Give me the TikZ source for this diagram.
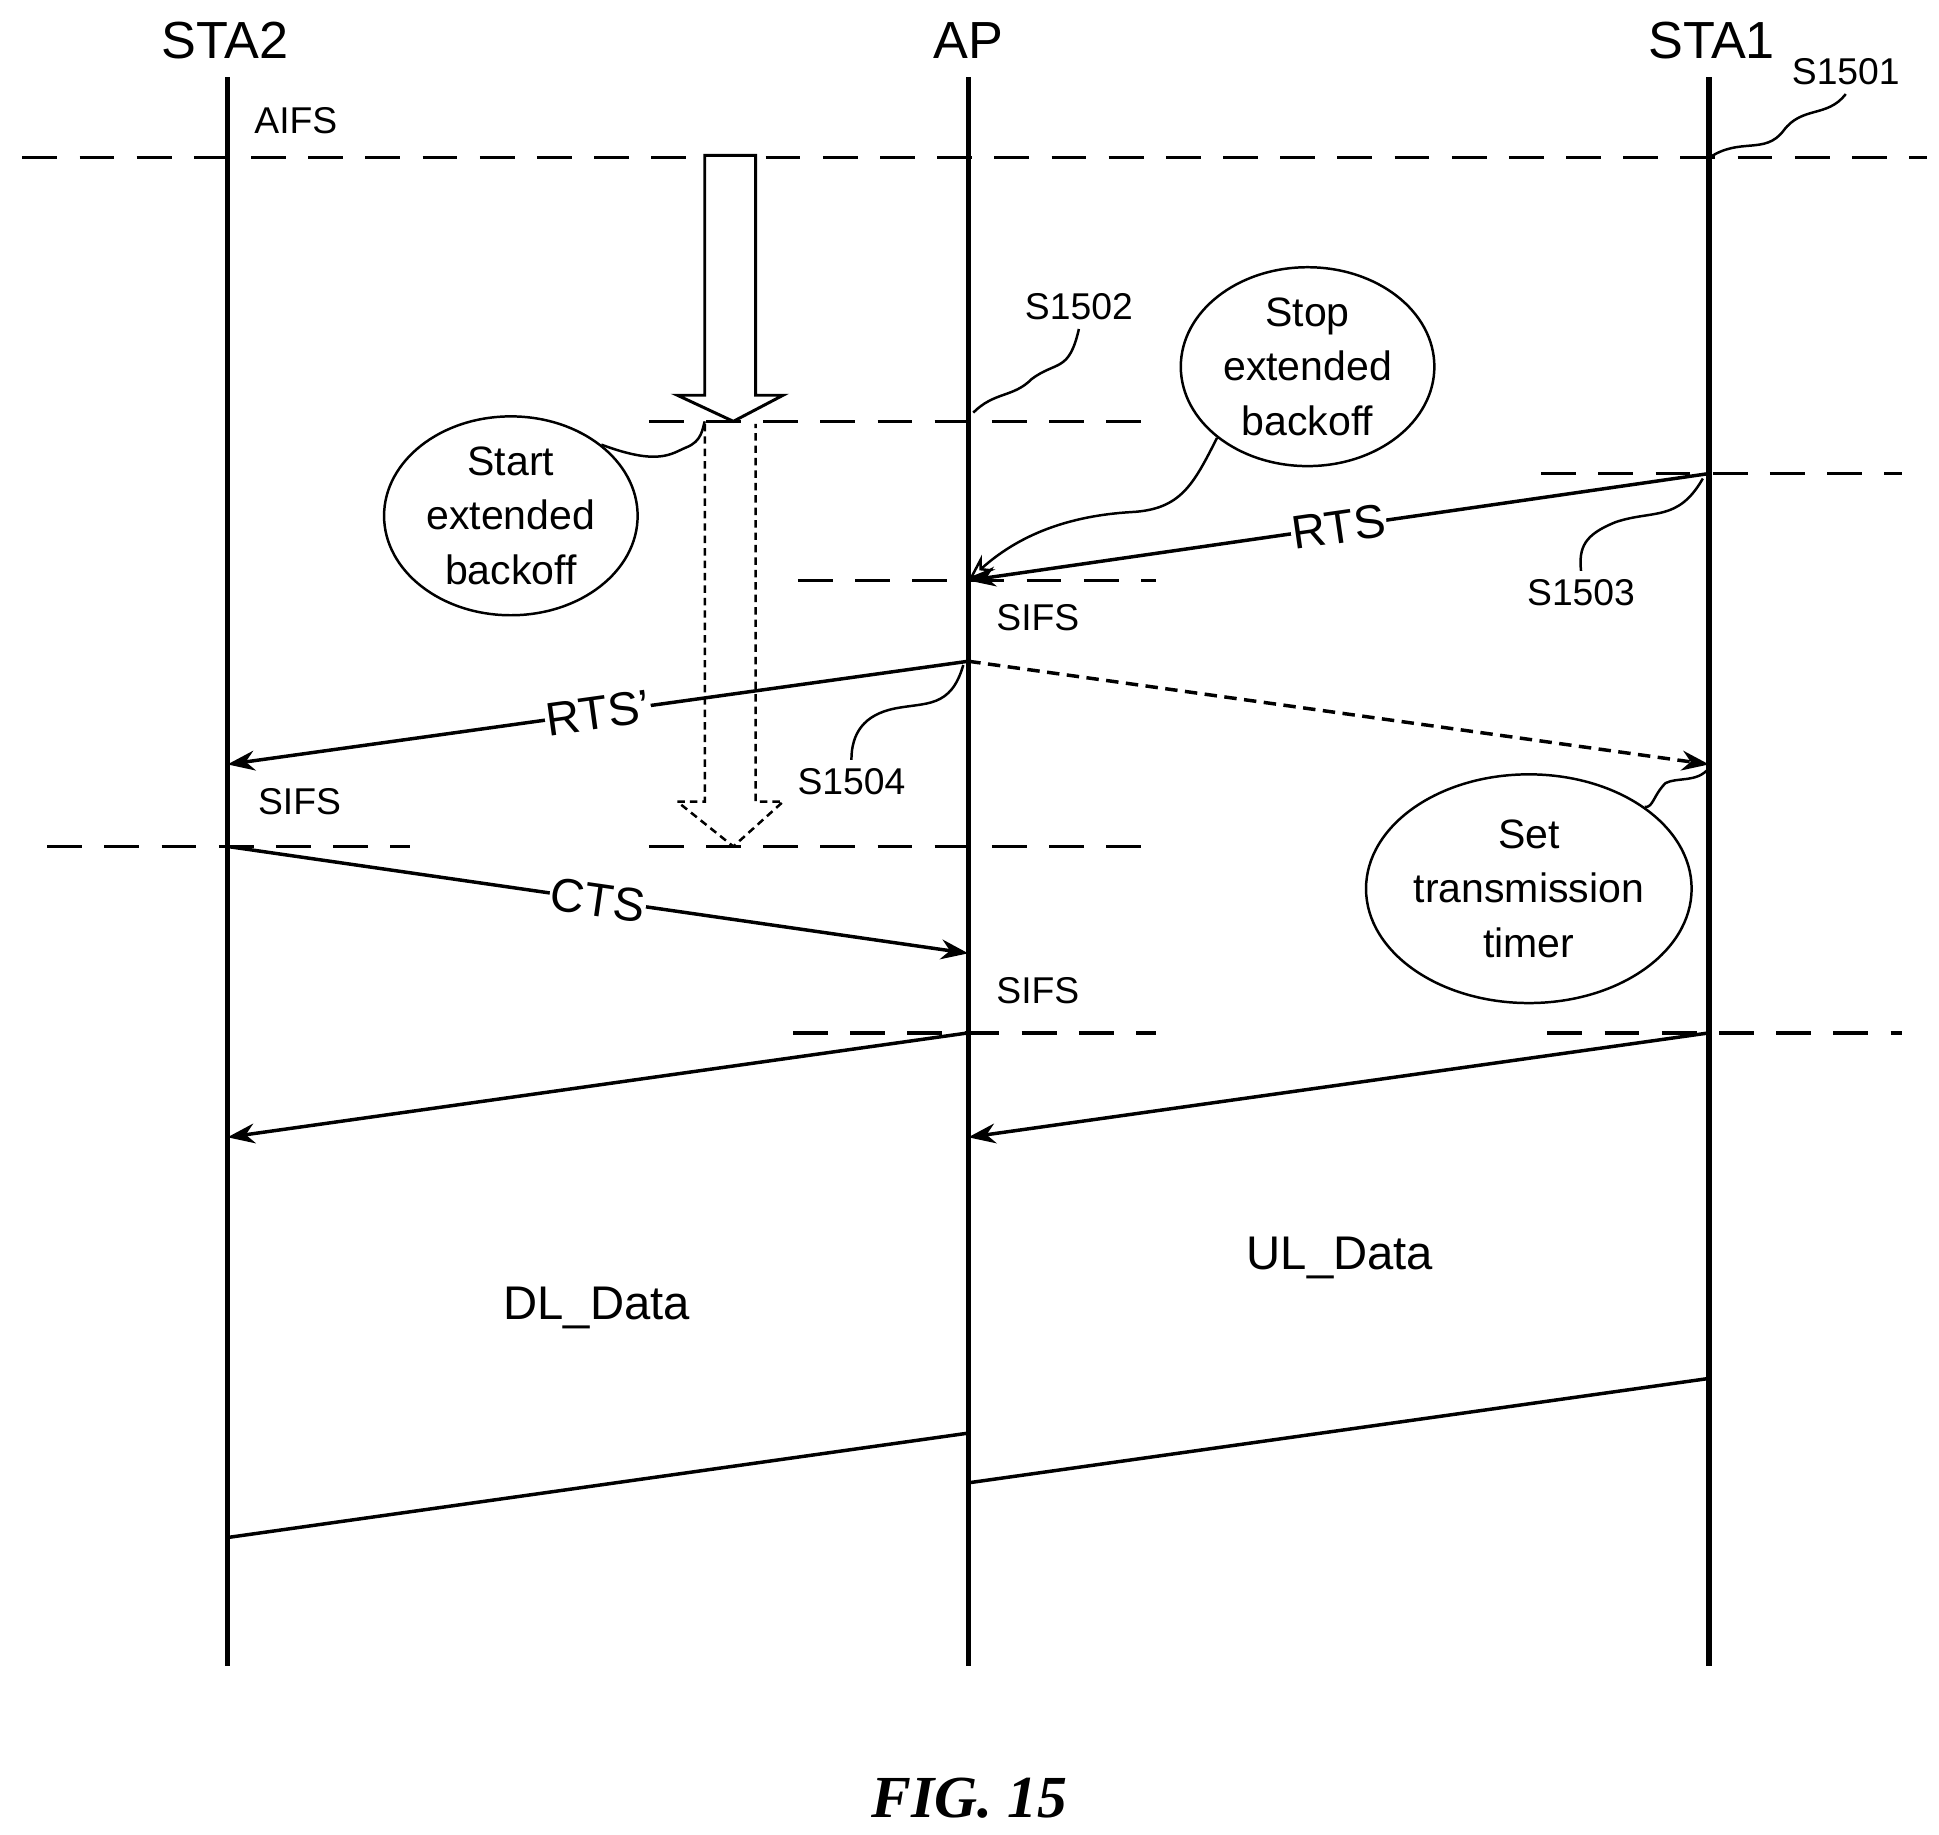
\documentclass[tikz,border=0pt]{standalone}
\usepackage{fontspec}
\setmainfont{Liberation Sans}
\usetikzlibrary{arrows.meta,shapes.geometric}
\begin{document}
\begin{tikzpicture}[x=0.5pt,y=-0.5pt,
 life/.style={line width=2.2pt},
 dsh/.style={line width=1.3pt,dash pattern=on 14pt off 9pt},
 msg/.style={line width=1.4pt,-{Stealth[length=11pt,width=8pt]}},
 lbl/.style={font=\fontsize{15}{17}\selectfont},
 big/.style={font=\fontsize{21}{24}\selectfont},
 mlab/.style={font=\fontsize{19}{21}\selectfont,fill=white,inner sep=0.5pt},
 ell/.style={draw,ellipse,line width=1pt,align=center,inner sep=0pt,font=\fontsize{16.5}{22}\selectfont},
 lead/.style={line width=1pt}]
\useasboundingbox (0,0) rectangle (1560,1476);
% lifelines
\node[big] (t2) at (181,33) {STA2};
\node[big] (ta) at (779,33) {AP};
\node[big] (t1) at (1377,33) {STA1};
\coordinate (s2t) at (183,62); \coordinate (s2b) at (183,1340);
\coordinate (apt) at (779,62); \coordinate (apb) at (779,1340);
\coordinate (s1t) at (1375,62); \coordinate (s1b) at (1375,1340);
\draw[life] (s2t)--(s2b); \draw[life] (apt)--(apb); \draw[life] (s1t)--(s1b);
% dashed lines
\draw[dsh] (18,127)--(1550,127);
\draw[dsh] (522,339)--(930,339);
\draw[dsh] (1240,381)--(1530,381);
\draw[dsh] (642,467)--(930,467);
\draw[dsh] (38,681)--(330,681);
\draw[dsh] (522,681)--(930,681);
\draw[dsh] (638,831)--(930,831);
\draw[dsh] (1245,831)--(1530,831);
% big hollow arrow
\draw[line width=1.2pt,fill=white] (567,125)--(608,125)--(608,318)--(630,318)--(590,339)--(545,318)--(567,318)--cycle;
\draw[line width=1pt,dash pattern=on 3pt off 2pt] (567,341)--(567,645)--(545,645)--(590,681)--(630,645)--(608,645)--(608,341);
% points
\coordinate (rA) at (1375,381); \coordinate (rB) at (779,467);
\coordinate (pA) at (779,532); \coordinate (pB) at (183,615); \coordinate (pC) at (1375,615);
\coordinate (cA) at (183,681); \coordinate (cB) at (779,767);
\coordinate (dA) at (779,831); \coordinate (dB) at (183,915);
\coordinate (uA) at (1375,831); \coordinate (uB) at (779,915);
\coordinate (eA) at (779,1153); \coordinate (eB) at (183,1237);
\coordinate (fA) at (1375,1109); \coordinate (fB) at (779,1193);
\draw[msg] (rA)--node[mlab,sloped]{RTS}(rB);
\draw[msg] (pA)--node[mlab,sloped]{RTS'}(pB);
\draw[msg,dash pattern=on 5pt off 3pt] (pA)--(pC);
\draw[msg] (cA)--node[mlab,sloped]{CTS}(cB);
\draw[msg] (dA)--(dB);
\draw[msg] (uA)--(uB);
\draw[line width=1.4pt] (eA)--(eB);
\draw[line width=1.4pt] (fA)--(fB);
% labels
\node[lbl] (aifs) at (238,97) {AIFS};
\node[lbl] (sf1) at (835,497) {SIFS};
\node[lbl] (sf2) at (241,645) {SIFS};
\node[lbl] (sf3) at (835,797) {SIFS};
\node[lbl] (n1) at (1485,58) {S1501};
\node[lbl] (n2) at (868,247) {S1502};
\node[lbl] (n3) at (1272,477) {S1503};
\node[lbl] (n4) at (685,629) {S1504};
\node[font=\fontsize{19}{21}\selectfont] (dl) at (480,1052) {DL\_Data};
\node[font=\fontsize{19}{21}\selectfont] (ul) at (1078,1012) {UL\_Data};
\node[font=\fontspec{Liberation Serif}\bfseries\itshape\fontsize{24}{28}\selectfont] (fig) at (780,1447) {FIG. 15};
% ellipses
\node[ell,minimum width=102pt,minimum height=80pt] (stop) at (1052,295) {Stop\\extended\\backoff};
\node[ell,minimum width=102pt,minimum height=80pt] (start) at (411,415) {Start\\extended\\backoff};
\node[ell,minimum width=118pt,minimum height=92pt] (set) at (1230,715) {Set\\transmission\\timer};
% leaders
\draw[lead] (1375,127) .. controls (1400,110) and (1420,125) .. (1435,105) .. controls (1450,85) and (1470,95) .. (n1.south);
\draw[lead] (783,332) .. controls (800,315) and (815,320) .. (830,305) .. controls (850,290) and (860,300) .. (n2.south);
\draw[lead] (1370,385) .. controls (1350,420) and (1330,410) .. (1300,420) .. controls (1275,430) and (1270,440) .. (n3.north);
\draw[lead] (775,535) .. controls (765,570) and (745,565) .. (720,570) .. controls (695,575) and (685,590) .. (n4.north);
\draw[lead] (1375,618) .. controls (1365,630) and (1350,625) .. (1340,630) .. controls (1330,640) and (1330,650) .. (set.north east);
\draw[lead] (start.north east) .. controls (530,375) and (540,365) .. (552,360) .. controls (565,355) and (565,345) .. (567,339);
\draw[lead,-{Stealth[length=11pt,width=8pt,open]}] (stop.south west) .. controls (960,390) and (950,410) .. (910,412) .. controls (860,415) and (820,430) .. (rB);
\end{tikzpicture}
\end{document}
